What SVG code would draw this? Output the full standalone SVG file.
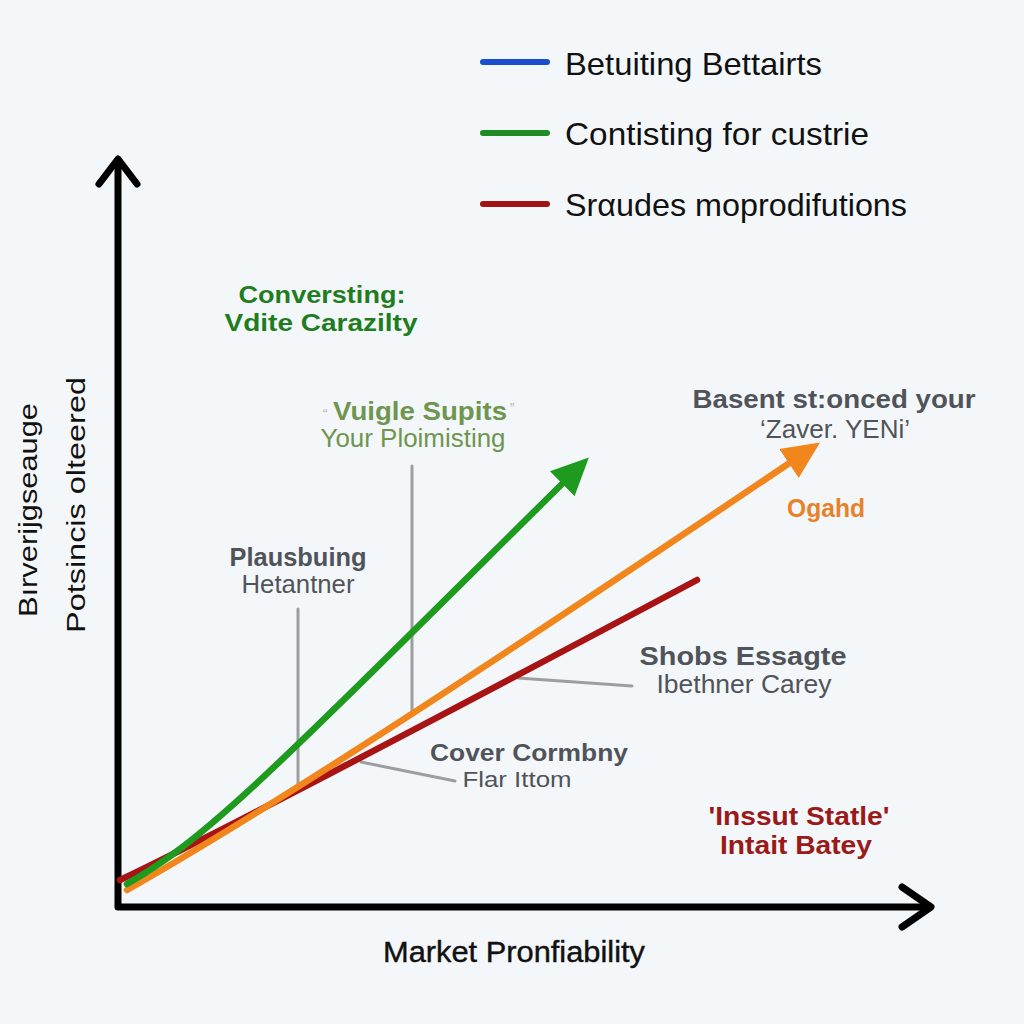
<svg xmlns="http://www.w3.org/2000/svg" width="1024" height="1024" viewBox="0 0 1024 1024">
<style>
text{font-family:"Liberation Sans",Arial,sans-serif}
.leg{font-size:32px;fill:#111}
.b{font-weight:bold;font-size:26px;text-anchor:middle}
.r{font-size:25px;text-anchor:middle}
.gray{fill:#50545a}
.lead{stroke:#9c9ea0;stroke-width:3;fill:none;stroke-linecap:round}
.axis{stroke:#000;stroke-width:7;fill:none;stroke-linecap:round;stroke-linejoin:round}
.curve{fill:none;stroke-width:6.5;stroke-linecap:round}
</style>
<defs>
<marker id="ahG" markerUnits="userSpaceOnUse" markerWidth="40" markerHeight="40" viewBox="-2 -16 32 32" refX="0" refY="0" orient="auto">
<path d="M-2,-14 L28,0 L-2,14 z" fill="#1e9a1e"/>
</marker>
<marker id="ahO" markerUnits="userSpaceOnUse" markerWidth="40" markerHeight="40" viewBox="-2 -16 32 32" refX="0" refY="0" orient="auto">
<path d="M-2,-14 L28,0 L-2,14 z" fill="#f0861c"/>
</marker>
</defs>
<rect width="1024" height="1024" fill="#f4f7f9"/>

<g id="legend">
<line x1="483" y1="62" x2="547" y2="62" stroke="#1a4fcf" stroke-width="6" stroke-linecap="round"/>
<text class="leg" x="565" y="75" textLength="257" lengthAdjust="spacingAndGlyphs">Betuiting Bettairts</text>
<line x1="483" y1="133" x2="547" y2="133" stroke="#1e8c22" stroke-width="6" stroke-linecap="round"/>
<text class="leg" x="565" y="145" textLength="304" lengthAdjust="spacingAndGlyphs">Contisting for custrie</text>
<line x1="483" y1="204" x2="547" y2="204" stroke="#a01414" stroke-width="6" stroke-linecap="round"/>
<text class="leg" x="565" y="216" textLength="342" lengthAdjust="spacingAndGlyphs">Srαudes moprodifutions</text>
</g>

<g id="axes">
<polyline class="axis" points="118,160 118,907 930,907"/>
<polyline class="axis" points="99,184 118,159 137,184"/>
<polyline class="axis" points="902,887 931,907 902,927"/>
</g>

<g id="axis-labels">
<text x="514" y="962" style="font-size:30px;fill:#111;text-anchor:middle;stroke:#111;stroke-width:0.4" textLength="262" lengthAdjust="spacingAndGlyphs">Market Pronfiability</text>
<text transform="translate(37,510) rotate(-90)" style="font-size:26px;fill:#111;text-anchor:middle" textLength="214" lengthAdjust="spacingAndGlyphs">Bırverijgseauge</text>
<text transform="translate(85,505) rotate(-90)" style="font-size:26px;fill:#111;text-anchor:middle" textLength="256" lengthAdjust="spacingAndGlyphs">Potsincis olteered</text>
</g>

<g id="connectors">
<line class="lead" x1="298" y1="609" x2="298" y2="786"/>
<line class="lead" x1="412" y1="466" x2="412" y2="713"/>
<line class="lead" x1="361" y1="762" x2="455" y2="781"/>
<line class="lead" x1="518" y1="678" x2="632" y2="686"/>
<path class="curve" stroke="#a81414" d="M120,880 C200,842 400,738 697,580"/>
<path class="curve" stroke="#f0861c" d="M127,890 C250,820 420,712 791,462" marker-end="url(#ahO)"/>
<path class="curve" stroke="#1e9a1e" d="M127,884 C210,836 265,778 564,482" marker-end="url(#ahG)"/>
</g>

<g id="node-conversting">
<text class="b" x="322" y="303" fill="#1f7d1f" style="font-size:24px" textLength="167" lengthAdjust="spacingAndGlyphs">Conversting:</text>
<text class="b" x="321" y="331" fill="#1f7d1f" style="font-size:24px" textLength="193" lengthAdjust="spacingAndGlyphs">Vdite Carazilty</text>
</g>

<g id="node-vuigle">
<text x="325" y="419" style="font-size:14px;text-anchor:middle;fill:#b0b8b0">“</text>
<text class="b" x="420" y="420" fill="#6e9650" textLength="174" lengthAdjust="spacingAndGlyphs">Vuigle Supits</text>
<text x="512" y="413" style="font-size:14px;text-anchor:middle;fill:#b0b8b0">”</text>
<text class="r" x="413" y="447" fill="#6e9650" textLength="185" lengthAdjust="spacingAndGlyphs">Your Ploimisting</text>
</g>

<g id="node-basent">
<text class="b gray" x="834" y="408" textLength="283" lengthAdjust="spacingAndGlyphs">Basent st:onced your</text>
<text class="r gray" x="835" y="438" textLength="150" lengthAdjust="spacingAndGlyphs">‘Zaver. YENi’</text>
</g>

<g id="node-ogahd">
<text class="b" x="826" y="517" fill="#e8822a" textLength="78" lengthAdjust="spacingAndGlyphs">Ogahd</text>
</g>

<g id="node-plausbuing">
<text class="b gray" x="298" y="566" textLength="137" lengthAdjust="spacingAndGlyphs">Plausbuing</text>
<text class="r gray" x="298" y="593" textLength="113" lengthAdjust="spacingAndGlyphs">Hetantner</text>
</g>

<g id="node-shobs">
<text class="b gray" x="743" y="665" textLength="207" lengthAdjust="spacingAndGlyphs">Shobs Essagte</text>
<text class="r gray" x="744" y="693" textLength="175" lengthAdjust="spacingAndGlyphs">Ibethner Carey</text>
</g>

<g id="node-cover">
<text class="b gray" x="529" y="761" style="font-size:24px" textLength="198" lengthAdjust="spacingAndGlyphs">Cover Cormbny</text>
<text class="r gray" x="517" y="787" style="font-size:22px" textLength="109" lengthAdjust="spacingAndGlyphs">Flar Ittom</text>
</g>

<g id="node-inssut">
<text class="b" x="799" y="825" fill="#9a1a1a" textLength="181" lengthAdjust="spacingAndGlyphs">'Inssut Statle'</text>
<text class="b" x="796" y="854" fill="#9a1a1a" textLength="152" lengthAdjust="spacingAndGlyphs">Intait Batey</text>
</g>
</svg>
